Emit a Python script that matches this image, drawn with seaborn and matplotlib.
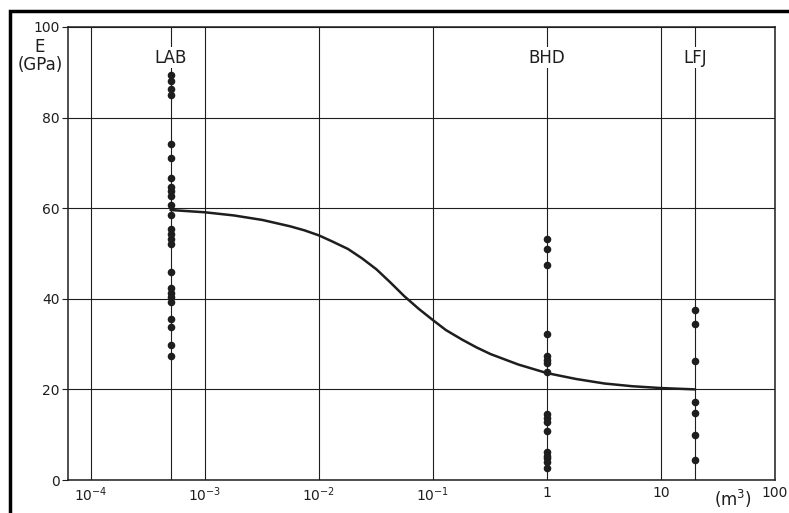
import pandas as pd
import matplotlib.pyplot as plt
import seaborn as sns
from matplotlib.patches import Rectangle

sns.set_style("white")
plt.rcParams['font.family'] = ['DejaVu Sans']

# measured E values per test site (volume in m3)
lab_volume = 0.0005
lab_e = [89.3, 88.0, 86.4, 85.0, 74.2, 71.1, 66.7, 64.6, 63.8, 62.8, 60.6,
         58.4, 55.5, 54.3, 53.2, 52.1, 45.9, 42.4, 41.3, 40.4, 39.3, 35.6,
         33.7, 29.7, 27.3]
bhd_volume = 1.0
bhd_e = [53.2, 51.0, 47.5, 32.3, 27.3, 26.5, 25.9, 23.8, 14.6, 13.7, 12.8,
         10.8, 6.1, 5.4, 4.9, 3.9, 2.7]
lfj_volume = 20.0
lfj_e = [37.5, 34.4, 26.3, 17.3, 14.9, 9.9, 4.4]

# scale-effect curve
curve_volume = [0.0005, 0.001, 0.0018, 0.0032, 0.0056, 0.0075, 0.01, 0.013,
                0.018, 0.024, 0.032, 0.042, 0.056, 0.075, 0.1, 0.13, 0.18,
                0.24, 0.32, 0.56, 1.0, 1.8, 3.2, 5.6, 10.0, 20.0]
curve_e = [59.6, 59.1, 58.4, 57.4, 56.0, 55.1, 54.0, 52.7, 51.0, 48.9, 46.5,
           43.7, 40.6, 37.8, 35.3, 33.1, 31.0, 29.3, 27.8, 25.5, 23.6, 22.3,
           21.3, 20.7, 20.3, 20.0]

x_ticks = [1e-4, 1e-3, 1e-2, 1e-1, 1, 10, 100]
x_tick_labels = [r'$10^{-4}$', r'$10^{-3}$', r'$10^{-2}$', r'$10^{-1}$', '1', '10', '100']
y_ticks = [0, 20, 40, 60, 80, 100]
sites = ['LAB', 'BHD', 'LFJ']

df = pd.concat([
    pd.DataFrame({'site': 'LAB', 'volume': lab_volume, 'E': lab_e}),
    pd.DataFrame({'site': 'BHD', 'volume': bhd_volume, 'E': bhd_e}),
    pd.DataFrame({'site': 'LFJ', 'volume': lfj_volume, 'E': lfj_e}),
])
curve = pd.DataFrame({'volume': curve_volume, 'E': curve_e})

fig = plt.figure(figsize=(7.89, 5.13), dpi=100)
ax = fig.add_axes([68 / 789, 1 - 480 / 513, 707 / 789, 453 / 513])

ax.set_xscale('log')
ax.set_xlim(10 ** -4.2, 100)
ax.set_ylim(0, 100)

ink = '#1e1e1e'
ax.grid(True, which='major', color=ink, lw=0.8)
ax.set_axisbelow(True)
for v in [lab_volume, lfj_volume]:
    ax.axvline(v, color=ink, lw=0.8, zorder=0.5)

sns.lineplot(data=curve, x='volume', y='E', color=ink, lw=1.8, ax=ax, zorder=3)
sns.scatterplot(data=df, x='volume', y='E', color=ink, s=30, edgecolor=ink,
                linewidth=0, ax=ax, zorder=4, legend=False)

for name, v in zip(sites, [lab_volume, bhd_volume, lfj_volume]):
    ax.text(v, 93.2, name, ha='center', va='center', fontsize=12, color=ink,
            bbox=dict(facecolor='white', edgecolor='none', pad=1), zorder=5)

ax.set_xticks(x_ticks)
ax.set_xticklabels(x_tick_labels)
ax.xaxis.set_minor_locator(plt.NullLocator())
ax.set_yticks(y_ticks)
ax.tick_params(axis='y', length=4, width=0.8, color=ink, labelsize=10,
               labelcolor=ink, left=True, pad=2)
ax.tick_params(axis='x', length=0, labelsize=10, labelcolor=ink, pad=4)
ax.set_xlabel('')
ax.set_ylabel('')
for sp in ax.spines.values():
    sp.set_color(ink)
    sp.set_linewidth(1.1)

fig.text(40 / 789, 1 - 56 / 513, 'E\n(GPa)', ha='center', va='center',
         fontsize=12, color=ink, linespacing=0.95)
fig.text(733 / 789, 1 - 499 / 513, r'(m$^3$)', ha='center', va='center',
         fontsize=12, color=ink)

fig.patches.append(Rectangle((10 / 789, -0.1), 1.2, 1.1 - 11 / 513,
                             transform=fig.transFigure, fill=False,
                             edgecolor='black', lw=2.5))

fig.savefig('out.png', dpi=100)
